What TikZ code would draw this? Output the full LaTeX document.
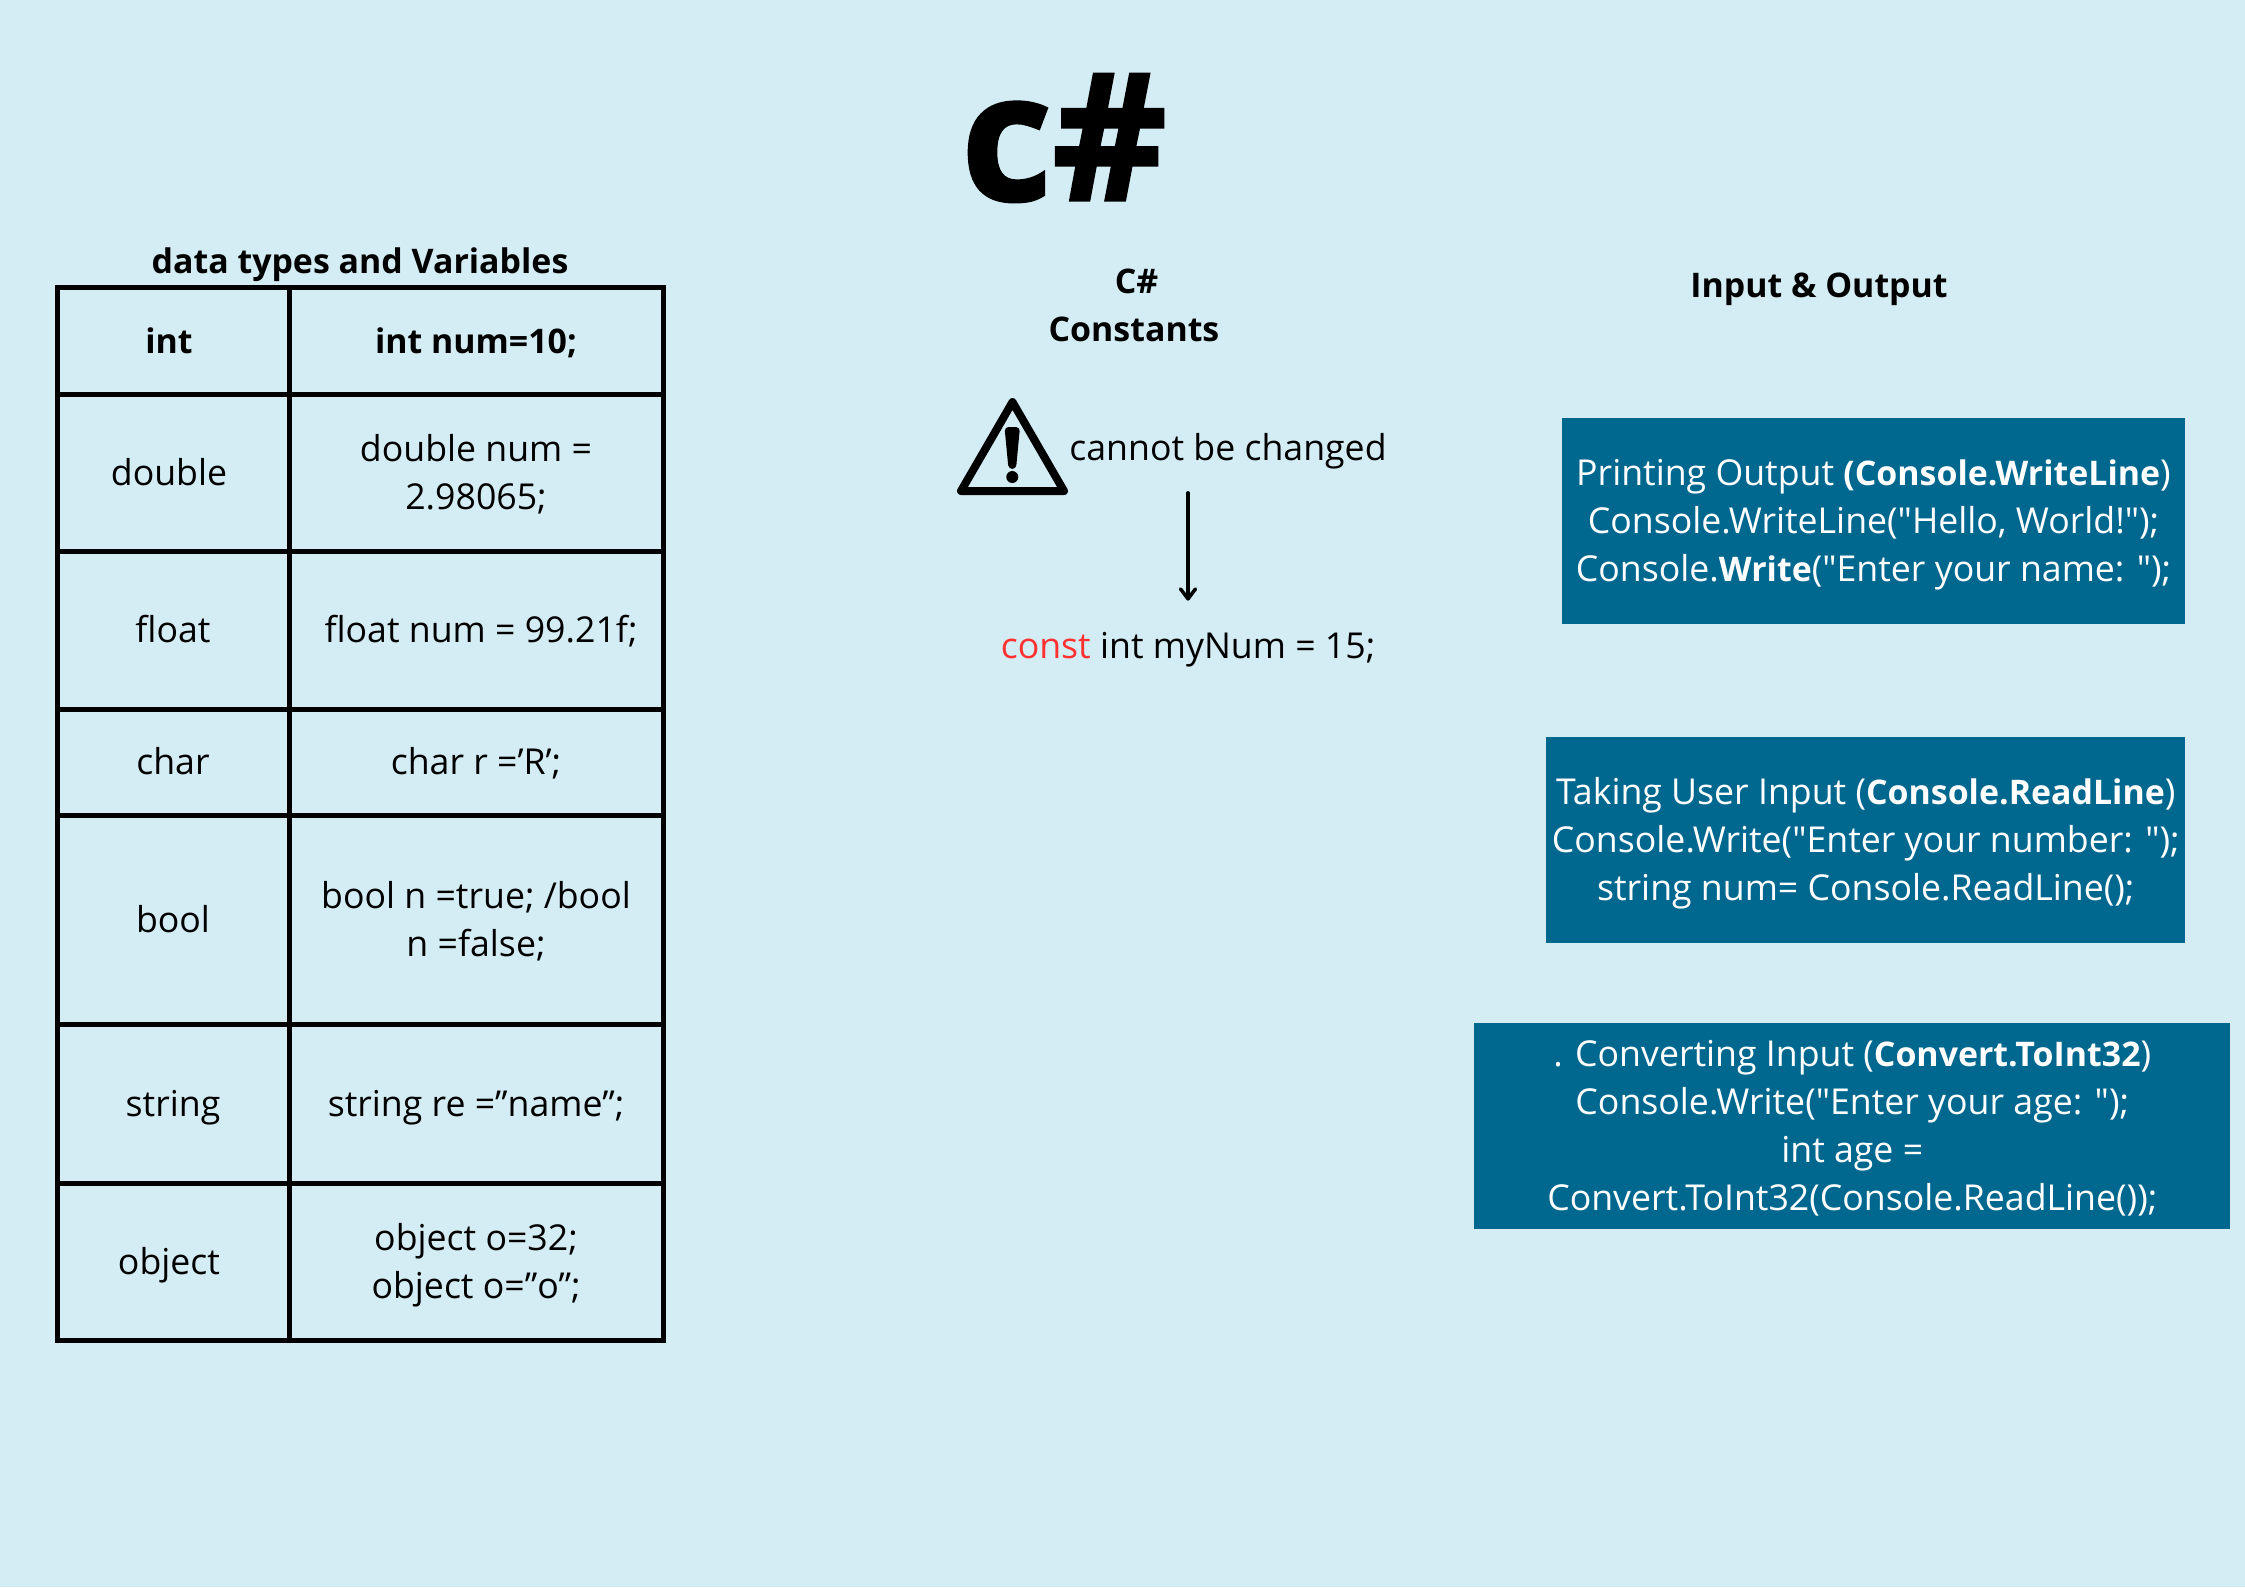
\documentclass[tikz,border=0pt]{standalone}
\usepackage{fontspec}
\setmainfont{Open Sans}[Ligatures=TeXOff, BoldFeatures={Scale=0.95}]
\newfontfamily\titulofont[FakeBold=1.5]{Open Sans Bold}
\usetikzlibrary{arrows.meta,positioning}
\definecolor{fondo}{HTML}{D4EDF4}
\definecolor{azul}{HTML}{00678F}
\definecolor{rojo}{HTML}{FF3131}

\begin{document}
\begin{tikzpicture}[
        texto/.style={align=center, inner sep=0pt, font=\fontsize{20.3}{27.3}\selectfont,
            execute at begin node={\rule{0pt}{22.1pt}}, execute at end node={\rule[-7.5pt]{0pt}{0pt}}},
        lineas/.style={execute at begin node={\rule{0pt}{#1}}},
        celda/.style={texto, draw=black, line width=0.1cm, outer sep=0pt},
        tipo/.style={celda, minimum width=4.64cm},
        valor/.style={celda, minimum width=7.48cm},
        caja/.style={texto, fill=azul, text=white, outer sep=0pt, minimum height=4.12cm},
        titulo/.style={texto, font=\fontsize{20.3}{27.3}\selectfont\bfseries},
        flecha/.style={-{Straight Barb[length=2mm, width=3mm, round]}, line width=0.07cm, line cap=round, shorten <=0.38cm, shorten >=0.38cm}
    ]
        \fill[fondo] (0,0) rectangle (44.9,-31.74);

        \node[inner sep=0pt, font=\fontsize{101}{101}\selectfont\titulofont] (lenguaje) at (21.28,-2.76) {c\#};

        \node[tipo, anchor=north west, minimum height=2.14cm, font=\fontsize{20.3}{27.3}\selectfont\bfseries] (t1) at (1.14,-5.74) {\hspace*{-0.16cm}int};
        \node[tipo, below=0pt of t1, minimum height=3.14cm] (t2) {\hspace*{-0.16cm}double};
        \node[tipo, below=0pt of t2, minimum height=3.16cm] (t3) {float};
        \node[tipo, below=0pt of t3, minimum height=2.12cm] (t4) {char};
        \node[tipo, below=0pt of t4, minimum height=4.18cm] (t5) {bool};
        \node[tipo, below=0pt of t5, minimum height=3.18cm] (t6) {string};
        \node[tipo, below=0pt of t6, minimum height=3.14cm] (t7) {\hspace*{-0.16cm}object};

        \node[valor, right=0pt of t1, minimum height=2.14cm, font=\fontsize{20.3}{27.3}\selectfont\bfseries] (v1) {int num=10;};
        \node[valor, lineas=49.4pt, right=0pt of t2, minimum height=3.14cm] (v2) {double num =\\2.98065;};
        \node[valor, right=0pt of t3, minimum height=3.16cm] (v3) {\hspace*{0.2cm}float num = 99.21f;};
        \node[valor, right=0pt of t4, minimum height=2.12cm] (v4) {char r =’R’;};
        \node[valor, lineas=49.4pt, right=0pt of t5, minimum height=4.18cm] (v5) {bool n =true; /bool\\n =false;};
        \node[valor, right=0pt of t6, minimum height=3.18cm] (v6) {string re =”name”;};
        \node[valor, lineas=49.4pt, right=0pt of t7, minimum height=3.14cm] (v7) {object o=32;\\object o=”o”;};

        \node[titulo] (tabla) at (7.2,-5.21) {data types and Variables};
        \node[titulo, lineas=49.4pt] (constantes) at (22.68,-6.1) {\hspace*{0.1cm}C\#\\Constants};
        \node[titulo] (entrada) at (36.38,-5.7) {Input \& Output};

        \node[texto] (cambio) at (24.56,-8.95) {cannot be changed};
        \node[texto] (const) at (23.76,-12.92) {\textcolor{rojo}{const} int myNum = 15;};
        \draw[flecha] (const.north |- cambio.south) -- (const.north);

        \draw[line width=0.16cm, line join=round] (20.25,-8.04) -- (21.28,-9.82) -- (19.22,-9.82) -- cycle;
        \fill[rounded corners=0.08cm] (20.09,-8.54) -- (20.4,-8.54) -- (20.32,-9.38) -- (20.17,-9.38) -- cycle;
        \fill (20.245,-9.54) circle (0.12cm);

        \node[caja, lineas=76.7pt, minimum width=12.47cm] (c1) at (37.47,-10.41) {Printing Output \textbf{(Console.WriteLine})\\Console.WriteLine("Hello, World!");\\Console.\textbf{Write}("Enter your name: ");};
        \node[caja, lineas=76.7pt, minimum width=12.78cm, below=2.26cm of c1.south east, anchor=north east] (c2) {Taking User Input (\textbf{Console.ReadLine})\\Console.Write("Enter your number: ");\\string num= Console.ReadLine();};
        \node[caja, lineas=104pt, minimum width=15.12cm, below=1.6cm of c2.south east, anchor=north east, xshift=0.9cm] (c3) {. Converting Input (\textbf{Convert.ToInt32})\\Console.Write("Enter your age: ");\\int age =\\Convert.ToInt32(Console.ReadLine());};
    \end{tikzpicture}
\end{document}
